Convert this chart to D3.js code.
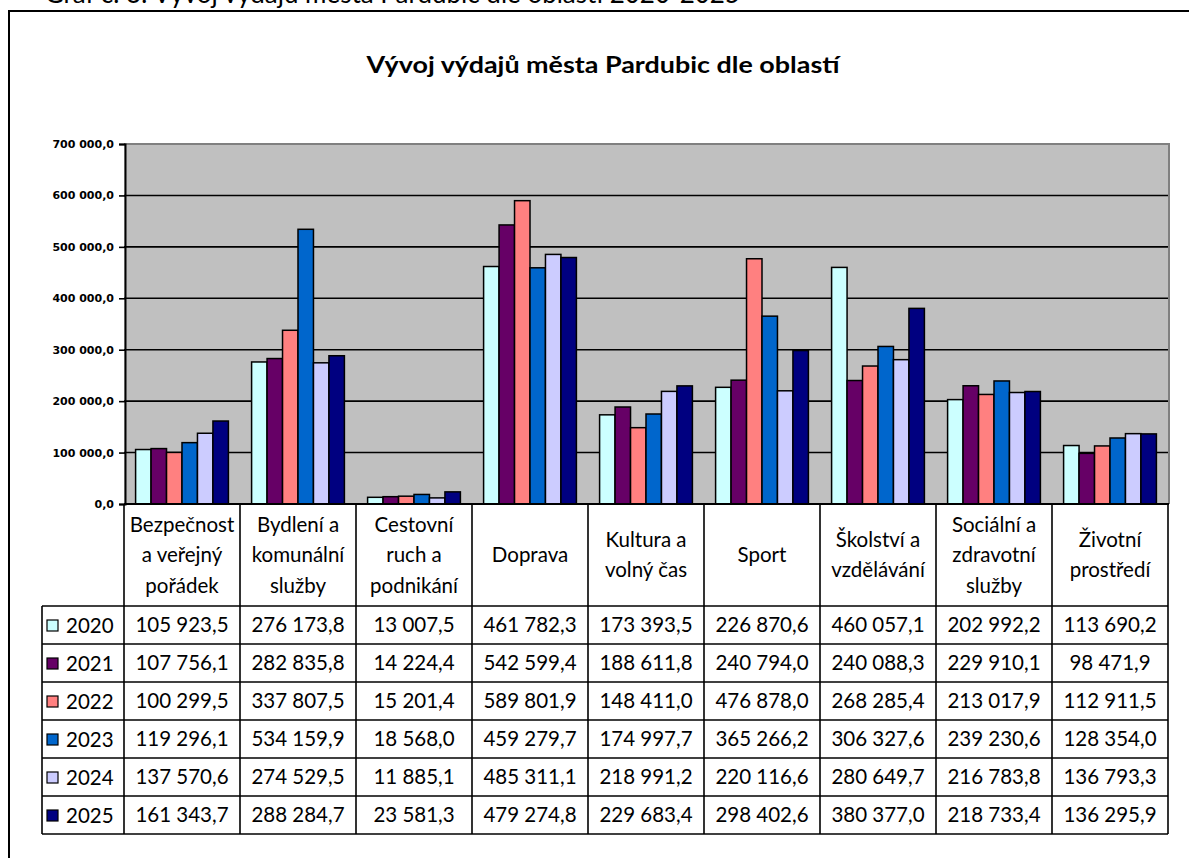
<!DOCTYPE html>
<html>
<head>
<meta charset="utf-8">
<script src="https://cdn.jsdelivr.net/npm/d3@7"></script>
<style>
  body { margin: 0; background: #fff; }
  svg { display: block; }
</style>
</head>
<body>
<div class="chart"></div>
<script>
// data
var categories = [
  "Bezpečnost a veřejný pořádek",
  "Bydlení a komunální služby",
  "Cestovní ruch a podnikání",
  "Doprava",
  "Kultura a volný čas",
  "Sport",
  "Školství a vzdělávání",
  "Sociální a zdravotní služby",
  "Životní prostředí"
];
// how each header is broken into lines
var categoryLines = [
  ["Bezpečnost", "a veřejný", "pořádek"],
  ["Bydlení a", "komunální", "služby"],
  ["Cestovní", "ruch a", "podnikání"],
  ["Doprava"],
  ["Kultura a", "volný čas"],
  ["Sport"],
  ["Školství a", "vzdělávání"],
  ["Sociální a", "zdravotní", "služby"],
  ["Životní", "prostředí"]
];
var years = ["2020", "2021", "2022", "2023", "2024", "2025"];
var values2020 = [105923.5, 276173.8, 13007.5, 461782.3, 173393.5, 226870.6, 460057.1, 202992.2, 113690.2];
var values2021 = [107756.1, 282835.8, 14224.4, 542599.4, 188611.8, 240794.0, 240088.3, 229910.1, 98471.9];
var values2022 = [100299.5, 337807.5, 15201.4, 589801.9, 148411.0, 476878.0, 268285.4, 213017.9, 112911.5];
var values2023 = [119296.1, 534159.9, 18568.0, 459279.7, 174997.7, 365266.2, 306327.6, 239230.6, 128354.0];
var values2024 = [137570.6, 274529.5, 11885.1, 485311.1, 218991.2, 220116.6, 280649.7, 216783.8, 136793.3];
var values2025 = [161343.7, 288284.7, 23581.3, 479274.8, 229683.4, 298402.6, 380377.0, 218733.4, 136295.9];
var yTicks = [0, 100000, 200000, 300000, 400000, 500000, 600000, 700000];
var colors = ["#CCFFFF", "#660066", "#FF8080", "#0066CC", "#CCCCFF", "#000080"];

var series = [values2020, values2021, values2022, values2023, values2024, values2025];

var width = 1189,
  height = 858;

var cz = d3.formatLocale({ decimal: ",", thousands: "\u00a0", grouping: [3], currency: ["", ""] });
var fmt = cz.format(",.1f");

var svg = d3.select(".chart")
  .append("svg")
  .attr("width", width)
  .attr("height", height);

// caption above the frame (cut off at the top of the picture, as in the source)
svg.append("text")
  .attr("x", 740)
  .attr("y", 3)
  .attr("text-anchor", "end")
  .style("font-family", "Lato, 'Open Sans', sans-serif")
  .style("font-size", "26px")
  .text("Graf č. 3: Vývoj výdajů města Pardubic dle oblastí 2020-2025");

// outer frame, runs off right and bottom
svg.append("path")
  .attr("d", "M9,870 L9,11 L1200,11")
  .attr("fill", "none")
  .attr("stroke", "#000")
  .attr("stroke-width", 2);

svg.append("text")
  .attr("x", 603)
  .attr("y", 73)
  .attr("text-anchor", "middle")
  .style("font-family", "Lato, 'Open Sans', sans-serif")
  .style("font-weight", "bold")
  .style("font-size", "22px")
  .attr("textLength", 473)
  .attr("lengthAdjust", "spacingAndGlyphs")
  .text("Vývoj výdajů města Pardubic dle oblastí");

var x = d3.scaleBand()
  .domain(categories)
  .range([124, 1168])
  .padding(0);

var xInner = d3.scaleBand()
  .domain(years)
  .range([0, x.bandwidth()])
  .paddingInner(0)
  .paddingOuter(0.75);

var y = d3.scaleLinear()
  .domain([0, 700000])
  .range([504, 144]);

// plot area
svg.append("rect")
  .attr("x", x.range()[0])
  .attr("y", y(700000))
  .attr("width", x.range()[1] - x.range()[0])
  .attr("height", y(0) - y(700000))
  .attr("fill", "#C0C0C0");

svg.append("path")
  .attr("d", "M" + x.range()[0] + "," + y(700000) + " L" + (x.range()[1] + 1) + "," + y(700000) + " L" + (x.range()[1] + 1) + "," + y(0))
  .attr("fill", "none")
  .attr("stroke", "#808080")
  .attr("stroke-width", 2);

// gridlines
svg.append("g")
  .selectAll("line")
  .data(yTicks.filter(function(d) { return d > 0 && d < 700000; }))
  .enter()
  .append("line")
  .attr("x1", x.range()[0])
  .attr("x2", x.range()[1])
  .attr("y1", function(d) { return y(d); })
  .attr("y2", function(d) { return y(d); })
  .attr("stroke", "#000")
  .attr("stroke-width", 1.6);

// y axis
var yAxis = d3.axisLeft(y)
  .tickValues(yTicks)
  .tickSize(6)
  .tickPadding(5)
  .tickFormat(fmt);

var gy = svg.append("g")
  .attr("transform", "translate(" + (x.range()[0] + 1) + ",0)")
  .call(yAxis);
gy.select(".domain").attr("stroke", "#000").attr("stroke-width", 2);
gy.selectAll(".tick line").attr("stroke", "#000").attr("stroke-width", 1.6);
gy.selectAll(".tick text")
  .style("font-family", "'DejaVu Sans', Verdana, sans-serif")
  .style("font-weight", "bold")
  .style("font-size", "11px")
  .attr("fill", "#000");

// bars
var groups = svg.append("g")
  .selectAll("g")
  .data(series)
  .enter()
  .append("g")
  .attr("fill", function(d, i) { return colors[i]; });

groups.selectAll("rect")
  .data(function(d, i) {
    return d.map(function(v, j) { return { year: years[i], cat: categories[j], value: v }; });
  })
  .enter()
  .append("rect")
  .attr("x", function(d) { return x(d.cat) + xInner(d.year); })
  .attr("y", function(d) { return y(d.value); })
  .attr("width", xInner.bandwidth())
  .attr("height", function(d) { return y(0) - y(d.value); })
  .attr("stroke", "#000")
  .attr("stroke-width", 1.5);

// x axis line
svg.append("line")
  .attr("x1", x.range()[0])
  .attr("x2", x.range()[1] + 1)
  .attr("y1", y(0))
  .attr("y2", y(0))
  .attr("stroke", "#000")
  .attr("stroke-width", 2);

/* data table */
var headTop = 504,
  rowTop = 606,
  rowH = 38,
  legendLeft = 42;
var tableFont = "Lato, 'Open Sans', sans-serif";
var table = svg.append("g").attr("class", "table");

// column lines (header + body)
table.selectAll(".col")
  .data(categories.concat(["end"]))
  .enter()
  .append("line")
  .attr("x1", function(d, i) { return x.range()[0] + i * x.bandwidth(); })
  .attr("x2", function(d, i) { return x.range()[0] + i * x.bandwidth(); })
  .attr("y1", headTop)
  .attr("y2", rowTop + rowH * years.length)
  .attr("stroke", "#000")
  .attr("stroke-width", 1.6);

// legend column left edge
table.append("line")
  .attr("x1", legendLeft).attr("x2", legendLeft)
  .attr("y1", rowTop).attr("y2", rowTop + rowH * years.length)
  .attr("stroke", "#000").attr("stroke-width", 1.6);

// row lines
table.selectAll(".row")
  .data(d3.range(years.length + 1))
  .enter()
  .append("line")
  .attr("x1", legendLeft)
  .attr("x2", x.range()[1])
  .attr("y1", function(d) { return rowTop + d * rowH; })
  .attr("y2", function(d) { return rowTop + d * rowH; })
  .attr("stroke", "#000")
  .attr("stroke-width", 1.6);

// header text
var heads = table.selectAll(".head")
  .data(categoryLines)
  .enter()
  .append("text")
  .attr("text-anchor", "middle")
  .style("font-family", tableFont)
  .style("font-size", "20.5px")
  .attr("fill", "#000");

heads.each(function(lines, i) {
  var cx = x(categories[i]) + x.bandwidth() / 2;
  var lh = 30.5;
  var first = 562 - (lines.length - 1) * lh / 2;
  d3.select(this).selectAll("tspan")
    .data(lines)
    .enter()
    .append("tspan")
    .attr("x", cx)
    .attr("y", function(d, k) { return first + k * lh; })
    .text(function(d) { return d; });
});

// legend keys
var keys = table.selectAll(".key")
  .data(years)
  .enter()
  .append("g")
  .attr("transform", function(d, i) { return "translate(0," + (rowTop + i * rowH) + ")"; });

keys.append("rect")
  .attr("x", 47)
  .attr("y", 14)
  .attr("width", 11)
  .attr("height", 11)
  .attr("fill", function(d, i) { return colors[i]; })
  .attr("stroke", "#000")
  .attr("stroke-width", 1.2);

keys.append("text")
  .attr("x", 66)
  .attr("y", 27)
  .style("font-family", tableFont)
  .style("font-size", "20.5px")
  .text(function(d) { return d; });

// values
var rows = table.selectAll(".vals")
  .data(series)
  .enter()
  .append("g")
  .attr("transform", function(d, i) { return "translate(0," + (rowTop + i * rowH) + ")"; });

rows.selectAll("text")
  .data(function(d) { return d; })
  .enter()
  .append("text")
  .attr("x", function(d, j) { return x(categories[j]) + x.bandwidth() / 2; })
  .attr("y", 26)
  .attr("text-anchor", "middle")
  .style("font-family", tableFont)
  .style("font-size", "20.5px")
  .text(function(d) { return fmt(d); });
</script>
</body>
</html>
